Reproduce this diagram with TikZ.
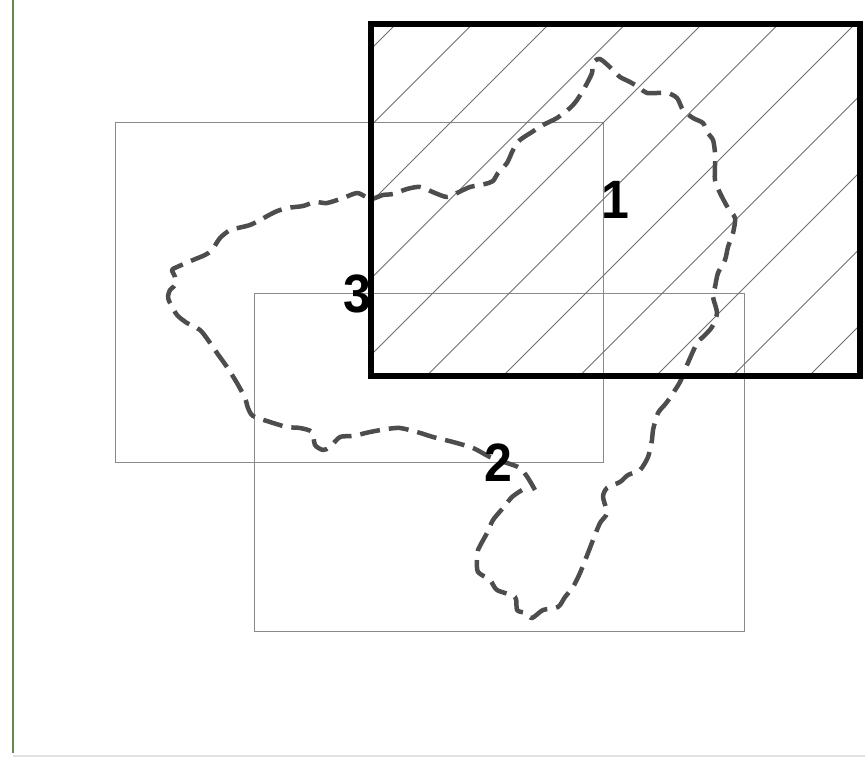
\documentclass[tikz,border=0pt]{standalone}
\usepackage{fontspec}
\setmainfont{Liberation Sans}
\definecolor{blobgray}{HTML}{4D4D4D}
\definecolor{thingray}{HTML}{8A8A8A}
\definecolor{hatchgray}{HTML}{707070}
\definecolor{framegreen}{HTML}{5E8A50}
\definecolor{framegray}{HTML}{E2E2DC}
\tikzset{
  thinbox/.style={draw=thingray, line width=1pt},
  hatchline/.style={draw=hatchgray, line width=0.9pt},
  thickbox/.style={draw=black, line width=6pt, line join=miter},
  blob/.style={draw=blobgray, line width=4.5pt, dash pattern=on 20pt off 9pt, line join=round},
  numlabel/.style={font=\fontsize{50}{50}\selectfont\bfseries, inner sep=0pt, text=black, yscale=1.08}
}
\begin{document}
\begin{tikzpicture}[x=1pt, y=-1pt]
\useasboundingbox (0,0) rectangle (865,757);
\fill[white] (0,0) rectangle (865,757);
% frame lines
\draw[framegreen, line width=1.3pt] (13,0) -- (13,753);
\draw[framegray, line width=2pt] (13,756) -- (865,756);
% thin rectangles
\draw[thinbox] (115,123) rectangle (603,462);
\draw[thinbox] (254,293) rectangle (744,631);
% hatching
\begin{scope}
\clip (371,24.5) rectangle (860,376);
\foreach \c in {0,...,13} {
  \draw[hatchline] ({420+76.5*\c-420},420) -- ({420+76.5*\c},0);
}
\end{scope}
% dashed blob
\draw[blob] plot[smooth, tension=0.45] coordinates {
(535,490) (528,478) (520,468) (507,463) (490,457) (473,448) (453,442) (433,437)
(417,432) (400,428) (387,429) (370,432) (353,436) (340,437) (330,447) (323,450)
(315,445) (312,432) (300,428) (287,427) (270,422) (253,416) (248,408) (245,398)
(237,383) (227,367) (217,353) (208,340) (200,330) (187,323) (177,315) (170,303)
(168,297) (170,290) (175,285) (175,277) (172,270) (177,267) (193,260) (205,255)
(212,250) (220,238) (230,230) (238,228) (250,225) (260,220) (275,212) (287,208)
(303,206) (315,202) (327,203) (343,198) (357,193) (366,197) (372,199) (383,195)
(393,194) (407,189) (420,187) (435,193) (447,197) (457,193) (470,187) (485,184)
(493,181) (498,173) (507,163) (513,150) (520,140) (532,132) (543,125) (557,118)
(570,108) (577,100) (585,87) (592,73) (593,63) (600,59) (613,70) (620,77)
(630,82) (640,88) (647,93) (667,93) (677,98) (683,110) (693,118) (703,123)
(707,132) (713,140) (715,153) (715,165) (715,180) (720,193) (728,208) (735,218)
(733,233) (728,247) (725,260) (718,273) (715,287) (713,297) (717,313) (712,327)
(703,337) (697,343) (687,365) (680,382) (667,402) (658,413) (653,430) (652,440)
(648,457) (640,470) (628,475) (620,482) (607,488) (603,497) (607,513) (600,523)
(593,540) (588,553) (580,573) (573,587) (565,597) (558,607) (543,610) (532,618)
(525,613) (517,610) (515,597) (497,590) (490,580) (478,572) (477,560) (478,550)
(487,533) (493,520) (503,508) (512,497) (522,490)
};
% thick rectangle
\draw[thickbox] (371,24.5) rectangle (860,376);
% labels
\node[numlabel] (l1) at (615,200) {1};
\node[numlabel] (l3) at (357,294) {3};
\node[numlabel] (l2) at (498,463) {2};
\end{tikzpicture}
\end{document}
